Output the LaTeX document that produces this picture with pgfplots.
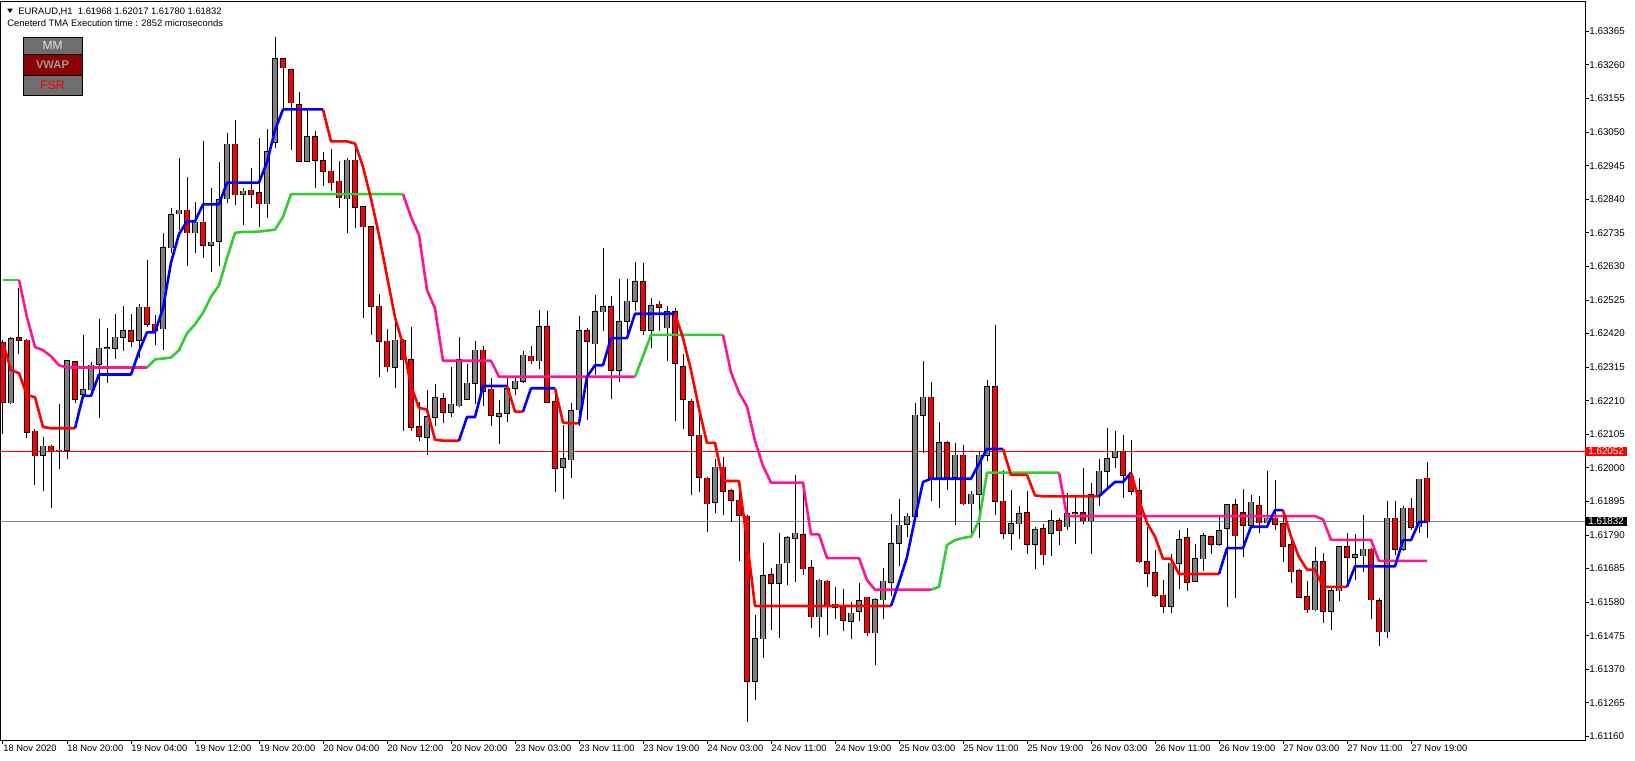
\documentclass[border=0pt]{standalone}
\usepackage{pgfplots}
\pgfplotsset{compat=1.18}
\usepackage{pgfplotstable}
\usepackage{fontspec}
\setmainfont{Liberation Sans}
\definecolor{candlegray}{HTML}{808080}
\definecolor{mtred}{HTML}{FF0000}
\definecolor{mtblue}{HTML}{0000FF}
\definecolor{mtgreen}{HTML}{32CD32}
\definecolor{mtpink}{HTML}{FF1493}
\definecolor{slate}{HTML}{778899}
\definecolor{btngray}{HTML}{6E6E6E}
\definecolor{btnred}{HTML}{8B0000}
\newcommand\tf{\fontsize{4.7}{5.5}\selectfont}
\newcommand\pf{\fontsize{4.9}{5.5}\selectfont}

\pgfplotstableread{
i O H L C
0 1.62392 1.62399 1.62106 1.62206
1 1.62204 1.62409 1.62199 1.62404
2 1.62406 1.62564 1.62356 1.62399
3 1.62399 1.62402 1.62092 1.62111
4 1.62114 1.62121 1.61945 1.62038
5 1.62039 1.62096 1.61928 1.62068
6 1.62068 1.62071 1.61874 1.62054
7 1.62054 1.62199 1.61995 1.62055
8 1.62056 1.62335 1.62028 1.62334
9 1.62331 1.62334 1.62202 1.62214
10 1.62231 1.62416 1.62228 1.62245
11 1.62245 1.62332 1.62242 1.62321
12 1.62325 1.62466 1.62156 1.62374
13 1.62374 1.62438 1.62266 1.62375
14 1.62374 1.62482 1.62342 1.62409
15 1.62409 1.62505 1.62366 1.62428
16 1.62428 1.62482 1.62378 1.62396
17 1.62399 1.62514 1.62345 1.62502
18 1.62502 1.62649 1.62442 1.62449
19 1.62449 1.62478 1.62385 1.62431
20 1.62435 1.62734 1.62368 1.62688
21 1.62688 1.62814 1.62671 1.62791
22 1.62795 1.62968 1.62745 1.62806
23 1.62806 1.62911 1.62631 1.62735
24 1.62735 1.62831 1.62671 1.62768
25 1.62768 1.63021 1.62656 1.62696
26 1.62696 1.62874 1.62614 1.62706
27 1.62709 1.62956 1.62631 1.62838
28 1.62842 1.63046 1.62828 1.63012
29 1.63012 1.63088 1.62821 1.62854
30 1.62855 1.62874 1.62759 1.62865
31 1.62868 1.62938 1.62814 1.62856
32 1.62861 1.63032 1.62752 1.62826
33 1.62826 1.63059 1.62782 1.62989
34 1.63018 1.63349 1.62999 1.63279
35 1.63279 1.63282 1.63118 1.63252
36 1.63245 1.63248 1.62995 1.63142
37 1.63135 1.63175 1.62956 1.62959
38 1.62959 1.63121 1.62956 1.63035
39 1.63035 1.63054 1.62874 1.62962
40 1.62961 1.62988 1.62882 1.62928
41 1.62928 1.62996 1.62866 1.62892
42 1.62896 1.62959 1.62814 1.62845
43 1.62842 1.62968 1.62734 1.62962
44 1.62962 1.63009 1.62749 1.62816
45 1.62816 1.62819 1.62468 1.62754
46 1.62754 1.62756 1.62416 1.62505
47 1.62505 1.62545 1.62285 1.62396
48 1.62396 1.62434 1.62299 1.62316
49 1.62314 1.62462 1.62249 1.62399
50 1.62399 1.62402 1.62116 1.62338
51 1.62338 1.62442 1.62116 1.62128
52 1.62128 1.62206 1.62085 1.62099
53 1.62096 1.62245 1.62039 1.62159
54 1.62159 1.62262 1.62131 1.62219
55 1.62216 1.62235 1.62139 1.62174
56 1.62174 1.62314 1.62159 1.62199
57 1.62195 1.62409 1.62191 1.62338
58 1.62214 1.62324 1.62211 1.62264
59 1.62264 1.62396 1.62199 1.62368
60 1.62368 1.62382 1.62192 1.62239
61 1.62246 1.62282 1.62131 1.62164
62 1.62162 1.62211 1.62074 1.62169
63 1.62171 1.62282 1.62142 1.62248
64 1.62249 1.62288 1.62228 1.62271
65 1.62271 1.62364 1.62264 1.62352
66 1.62349 1.62382 1.62325 1.62335
67 1.62335 1.62495 1.62309 1.62441
68 1.62441 1.62492 1.62202 1.62206
69 1.62206 1.62242 1.61924 1.61999
70 1.62002 1.62135 1.61902 1.62028
71 1.62025 1.62202 1.61968 1.62178
72 1.62182 1.62474 1.62132 1.62428
73 1.62428 1.62439 1.62149 1.62396
74 1.62388 1.62542 1.62292 1.62488
75 1.62488 1.62688 1.62428 1.62504
76 1.62504 1.62539 1.62214 1.62306
77 1.62306 1.62591 1.62268 1.62456
78 1.62459 1.62592 1.62414 1.62521
79 1.62521 1.62645 1.62492 1.62582
80 1.62582 1.62642 1.62416 1.62431
81 1.62431 1.62532 1.62374 1.62506
82 1.62511 1.62522 1.62428 1.62502
83 1.62438 1.62506 1.62335 1.62488
84 1.62489 1.62499 1.62146 1.62328
85 1.62316 1.62356 1.62121 1.62214
86 1.62206 1.62216 1.61914 1.62102
87 1.62102 1.62171 1.61924 1.61971
88 1.61968 1.61971 1.61799 1.61888
89 1.61892 1.62028 1.61859 1.62002
90 1.62002 1.62035 1.61852 1.61928
91 1.61928 1.61934 1.61831 1.61899
92 1.61899 1.61928 1.61709 1.61852
93 1.61849 1.61852 1.61206 1.61332
94 1.61332 1.61539 1.61274 1.61466
95 1.61466 1.61764 1.61406 1.61662
96 1.61665 1.61688 1.61492 1.61639
97 1.61639 1.61796 1.61468 1.61699
98 1.61704 1.61788 1.61634 1.61782
99 1.61781 1.61978 1.61642 1.61795
100 1.61791 1.61942 1.61664 1.61685
101 1.61688 1.61711 1.61499 1.61535
102 1.61535 1.61651 1.61471 1.61648
103 1.61645 1.61649 1.61478 1.61571
104 1.61574 1.61628 1.61528 1.61565
105 1.61565 1.61621 1.61489 1.61524
106 1.61521 1.61582 1.61464 1.61545
107 1.61552 1.61639 1.61522 1.61585
108 1.61595 1.61596 1.61474 1.61485
109 1.61485 1.61592 1.61385 1.61588
110 1.61588 1.61688 1.61528 1.61645
111 1.61642 1.61856 1.61599 1.61762
112 1.61764 1.61902 1.61692 1.61821
113 1.61824 1.61859 1.61785 1.61849
114 1.61849 1.62204 1.61845 1.62164
115 1.62164 1.62335 1.62045 1.62221
116 1.62221 1.62268 1.61896 1.61964
117 1.61964 1.62145 1.61875 1.62078
118 1.62078 1.62085 1.61931 1.61971
119 1.61971 1.62078 1.61821 1.62039
120 1.62039 1.62071 1.61885 1.61888
121 1.61888 1.61928 1.61781 1.61918
122 1.61918 1.62049 1.61782 1.62039
123 1.62039 1.62276 1.62021 1.62254
124 1.62254 1.62446 1.61852 1.61896
125 1.61896 1.61992 1.61778 1.61795
126 1.61795 1.61932 1.61742 1.61825
127 1.61825 1.61882 1.61778 1.61856
128 1.61859 1.61928 1.61732 1.61761
129 1.61761 1.61814 1.61685 1.61806
130 1.61809 1.61824 1.61696 1.61728
131 1.61796 1.61868 1.61725 1.61835
132 1.61835 1.61842 1.61759 1.61806
133 1.61816 1.61921 1.61806 1.61856
134 1.61859 1.61909 1.61762 1.61858
135 1.61859 1.61999 1.61824 1.61835
136 1.61835 1.61952 1.61731 1.61916
137 1.61916 1.62028 1.61882 1.61989
138 1.61989 1.62124 1.61931 1.62028
139 1.62034 1.62114 1.61999 1.62052
140 1.62052 1.62102 1.61906 1.61978
141 1.61974 1.62088 1.61916 1.61928
142 1.61928 1.61968 1.61704 1.61706
143 1.61706 1.61814 1.61628 1.61671
144 1.61671 1.61742 1.61596 1.61602
145 1.61602 1.61649 1.61545 1.61568
146 1.61568 1.61731 1.61545 1.61702
147 1.61702 1.61805 1.61621 1.61776
148 1.61781 1.61811 1.61616 1.61642
149 1.61646 1.61761 1.61642 1.61716
150 1.61716 1.61796 1.61678 1.61788
151 1.61785 1.61788 1.61731 1.61762
152 1.61762 1.61845 1.61756 1.61804
153 1.61811 1.61888 1.61564 1.61885
154 1.61885 1.61902 1.61592 1.61788
155 1.61859 1.61935 1.61721 1.61821
156 1.61821 1.61914 1.61816 1.61892
157 1.61882 1.61911 1.61796 1.61828
158 1.61828 1.61989 1.61811 1.61842
159 1.61842 1.61961 1.61806 1.61824
160 1.61825 1.61864 1.61706 1.61756
161 1.61759 1.61778 1.61639 1.61675
162 1.61678 1.61685 1.61592 1.61596
163 1.61596 1.61645 1.61545 1.61556
164 1.61556 1.61754 1.61552 1.61706
165 1.61706 1.61735 1.61516 1.61552
166 1.61552 1.61628 1.61492 1.61616
167 1.61616 1.61756 1.61585 1.61754
168 1.61754 1.61795 1.61628 1.61721
169 1.61721 1.61792 1.61649 1.61728
170 1.61725 1.61852 1.61674 1.61745
171 1.61745 1.61748 1.61528 1.61588
172 1.61585 1.61592 1.61442 1.61488
173 1.61488 1.61896 1.61468 1.61842
174 1.61842 1.61895 1.61728 1.61746
175 1.61746 1.61882 1.61739 1.61874
176 1.61874 1.61906 1.61806 1.61814
177 1.61816 1.61966 1.61796 1.61964
178 1.61968 1.62017 1.61780 1.61832
}\candles

\pgfplotstableread{
i a b
0 1.62392 1.62588
1 1.62306 1.62588
2 1.62296 1.62588
3 1.62228 1.62471
4 1.62221 1.62378
5 1.62128 1.62368
6 1.62124 1.62349
7 1.62124 1.62321
8 1.62124 1.62314
9 1.62124 1.62314
10 1.62225 1.62314
11 1.62225 1.62314
12 1.62292 1.62314
13 1.62292 1.62314
14 1.62292 1.62314
15 1.62292 1.62314
16 1.62292 1.62314
17 1.62364 1.62314
18 1.62424 1.62314
19 1.62424 1.62339
20 1.62499 1.62342
21 1.62642 1.62345
22 1.62731 1.62368
23 1.62771 1.62421
24 1.62771 1.62449
25 1.62824 1.62485
26 1.62824 1.62535
27 1.62824 1.62571
28 1.62892 1.62656
29 1.62892 1.62735
30 1.62892 1.62738
31 1.62892 1.62738
32 1.62892 1.62739
33 1.62956 1.62742
34 1.63056 1.62745
35 1.63121 1.62785
36 1.63121 1.62856
37 1.63121 1.62856
38 1.63121 1.62856
39 1.63121 1.62856
40 1.63121 1.62856
41 1.63021 1.62856
42 1.63021 1.62856
43 1.63021 1.62856
44 1.63014 1.62856
45 1.62942 1.62856
46 1.62842 1.62856
47 1.62728 1.62856
48 1.62599 1.62856
49 1.62471 1.62856
50 1.62385 1.62856
51 1.62256 1.62785
52 1.62188 1.62728
53 1.62182 1.62556
54 1.62088 1.62499
55 1.62085 1.62335
56 1.62085 1.62335
57 1.62085 1.62335
58 1.62159 1.62335
59 1.62159 1.62335
60 1.62256 1.62335
61 1.62256 1.62335
62 1.62256 1.62285
63 1.62256 1.62285
64 1.62176 1.62285
65 1.62176 1.62285
66 1.62249 1.62285
67 1.62249 1.62285
68 1.62249 1.62285
69 1.62249 1.62285
70 1.62142 1.62285
71 1.62139 1.62285
72 1.62139 1.62285
73 1.62285 1.62285
74 1.62321 1.62285
75 1.62321 1.62285
76 1.62406 1.62285
77 1.62406 1.62285
78 1.62406 1.62285
79 1.62482 1.62285
80 1.62482 1.62349
81 1.62482 1.62416
82 1.62482 1.62416
83 1.62482 1.62416
84 1.62482 1.62416
85 1.62406 1.62416
86 1.62306 1.62416
87 1.62185 1.62416
88 1.62078 1.62416
89 1.62078 1.62416
90 1.61959 1.62416
91 1.61959 1.62299
92 1.61959 1.62235
93 1.61771 1.62192
94 1.61568 1.62085
95 1.61568 1.62006
96 1.61568 1.61954
97 1.61568 1.61954
98 1.61568 1.61954
99 1.61568 1.61954
100 1.61568 1.61954
101 1.61568 1.61792
102 1.61568 1.61792
103 1.61568 1.61718
104 1.61568 1.61718
105 1.61568 1.61718
106 1.61568 1.61718
107 1.61568 1.61718
108 1.61568 1.61649
109 1.61568 1.61619
110 1.61568 1.61619
111 1.61568 1.61619
112 1.61642 1.61619
113 1.61721 1.61619
114 1.61842 1.61619
115 1.61956 1.61619
116 1.61966 1.61619
117 1.61966 1.61628
118 1.61966 1.61759
119 1.61966 1.61774
120 1.61966 1.61781
121 1.61966 1.61785
122 1.62014 1.61835
123 1.62059 1.61985
124 1.62059 1.61985
125 1.62059 1.61985
126 1.61978 1.61985
127 1.61978 1.61985
128 1.61978 1.61985
129 1.61914 1.61985
130 1.61911 1.61985
131 1.61911 1.61985
132 1.61911 1.61985
133 1.61911 1.61849
134 1.61911 1.61849
135 1.61911 1.61849
136 1.61911 1.61849
137 1.61911 1.61849
138 1.61934 1.61849
139 1.61956 1.61849
140 1.61956 1.61849
141 1.61985 1.61849
142 1.61899 1.61849
143 1.61828 1.61849
144 1.61785 1.61849
145 1.61716 1.61849
146 1.61716 1.61849
147 1.61668 1.61849
148 1.61668 1.61849
149 1.61668 1.61849
150 1.61668 1.61849
151 1.61668 1.61849
152 1.61668 1.61849
153 1.61749 1.61849
154 1.61749 1.61849
155 1.61749 1.61849
156 1.61816 1.61849
157 1.61816 1.61849
158 1.61816 1.61849
159 1.61868 1.61849
160 1.61868 1.61849
161 1.61785 1.61849
162 1.61721 1.61849
163 1.61682 1.61849
164 1.61682 1.61849
165 1.61628 1.61839
166 1.61628 1.61775
167 1.61628 1.61775
168 1.61628 1.61775
169 1.61692 1.61775
170 1.61692 1.61775
171 1.61692 1.61775
172 1.61692 1.61709
173 1.61692 1.61709
174 1.61692 1.61709
175 1.61774 1.61709
176 1.61774 1.61709
177 1.61831 1.61709
178 1.61831 1.61709
}\lines

\begin{document}
\begin{tikzpicture}
\useasboundingbox (0,0) rectangle (817.5pt,380.5pt);
\begin{axis}[
  at={(0.5pt,10.5pt)}, anchor=south west,
  scale only axis, width=792pt, height=369pt,
  xmin=-0.25, xmax=197.75, ymin=1.61149, ymax=1.63457,
  clip mode=individual,
  axis line style={black, line width=0.5pt},
  tick style={black, line width=0.5pt},
  tick align=outside, major tick length=2pt,
  xtick pos=lower, ytick pos=right, yticklabel pos=right,
  xtick={0,8,...,176},
  xticklabels={18 Nov 2020,18 Nov 20:00,19 Nov 04:00,19 Nov 12:00,19 Nov 20:00,20 Nov 04:00,20 Nov 12:00,20 Nov 20:00,23 Nov 03:00,23 Nov 11:00,23 Nov 19:00,24 Nov 03:00,24 Nov 11:00,24 Nov 19:00,25 Nov 03:00,25 Nov 11:00,25 Nov 19:00,26 Nov 03:00,26 Nov 11:00,26 Nov 19:00,27 Nov 03:00,27 Nov 11:00,27 Nov 19:00},
  xticklabel style={anchor=north west, inner sep=0pt, font=\tf, xshift=0pt, yshift=-0.5pt},
  ytick={1.6116,1.61265,1.6137,1.61475,1.6158,1.61685,1.6179,1.61895,1.62,1.62105,1.6221,1.62315,1.6242,1.62525,1.6263,1.62735,1.6284,1.62945,1.6305,1.63155,1.6326,1.63365},
  yticklabels={1.61160,1.61265,1.61370,1.61475,1.61580,1.61685,1.61790,1.61895,1.62000,1.62105,1.62210,1.62315,1.62420,1.62525,1.62630,1.62735,1.62840,1.62945,1.63050,1.63155,1.63260,1.63365},
  yticklabel style={anchor=west, inner sep=0pt, font=\pf},
  scaled ticks=false,
]
% price lines
\addplot[mtred, line width=0.5pt] coordinates {(-0.25,1.62052) (197.75,1.62052)};
\addplot[slate, line width=0.6pt] coordinates {(-0.25,1.61832) (197.75,1.61832)};

\pgfplotsset{cdl/.style={draw=none, mark=none}}
% wicks
\addplot[cdl, error bars/.cd, y dir=plus, y explicit, error mark=none,
  error bar style={draw=black, line width=0.5pt}]
  table[x=i, y=L, y error plus expr=\thisrow{H}-\thisrow{L}] {\candles};
% bull bodies
\addplot[cdl, restrict expr to domain={\thisrow{C}-\thisrow{O}}{0:1},
  error bars/.cd, y dir=plus, y explicit, error mark=none,
  error bar style={draw=black, line width=2.6pt, shorten <=-0.3pt, shorten >=-0.3pt}]
  table[x=i, y=O, y error plus expr=\thisrow{C}-\thisrow{O}] {\candles};
\addplot[cdl, restrict expr to domain={\thisrow{C}-\thisrow{O}}{0:1},
  error bars/.cd, y dir=plus, y explicit, error mark=none,
  error bar style={draw=candlegray, line width=1.6pt}]
  table[x=i, y=O, y error plus expr=\thisrow{C}-\thisrow{O}] {\candles};
% bear bodies
\addplot[cdl, restrict expr to domain={\thisrow{O}-\thisrow{C}}{0.000001:1},
  error bars/.cd, y dir=plus, y explicit, error mark=none,
  error bar style={draw=black, line width=2.6pt, shorten <=-0.3pt, shorten >=-0.3pt}]
  table[x=i, y=C, y error plus expr=\thisrow{O}-\thisrow{C}] {\candles};
\addplot[cdl, restrict expr to domain={\thisrow{O}-\thisrow{C}}{0.000001:1},
  error bars/.cd, y dir=plus, y explicit, error mark=none,
  error bar style={draw=mtred, line width=1.6pt}]
  table[x=i, y=C, y error plus expr=\thisrow{O}-\thisrow{C}] {\candles};

% slow line (green / pink)
\pgfplotsset{ind/.style={line width=1.3pt, line join=round, mark=none}}
\addplot[ind, mtgreen, restrict x to domain=0:2] table[x=i,y=b] {\lines};
\addplot[ind, mtpink, restrict x to domain=2:18] table[x=i,y=b] {\lines};
\addplot[ind, mtgreen, restrict x to domain=18:50] table[x=i,y=b] {\lines};
\addplot[ind, mtpink, restrict x to domain=50:79] table[x=i,y=b] {\lines};
\addplot[ind, mtgreen, restrict x to domain=79:90] table[x=i,y=b] {\lines};
\addplot[ind, mtpink, restrict x to domain=90:116] table[x=i,y=b] {\lines};
\addplot[ind, mtgreen, restrict x to domain=116:132] table[x=i,y=b] {\lines};
\addplot[ind, mtpink, restrict x to domain=132:178] table[x=i,y=b] {\lines};
% fast line (blue / red)
\addplot[ind, mtred, restrict x to domain=0:9] table[x=i,y=a] {\lines};
\addplot[ind, mtblue, restrict x to domain=9:40] table[x=i,y=a] {\lines};
\addplot[ind, mtred, restrict x to domain=40:57] table[x=i,y=a] {\lines};
\addplot[ind, mtblue, restrict x to domain=57:63] table[x=i,y=a] {\lines};
\addplot[ind, mtred, restrict x to domain=63:65] table[x=i,y=a] {\lines};
\addplot[ind, mtblue, restrict x to domain=65:69] table[x=i,y=a] {\lines};
\addplot[ind, mtred, restrict x to domain=69:72] table[x=i,y=a] {\lines};
\addplot[ind, mtblue, restrict x to domain=72:84] table[x=i,y=a] {\lines};
\addplot[ind, mtred, restrict x to domain=84:111] table[x=i,y=a] {\lines};
\addplot[ind, mtblue, restrict x to domain=111:125] table[x=i,y=a] {\lines};
\addplot[ind, mtred, restrict x to domain=125:137] table[x=i,y=a] {\lines};
\addplot[ind, mtblue, restrict x to domain=137:141] table[x=i,y=a] {\lines};
\addplot[ind, mtred, restrict x to domain=141:152] table[x=i,y=a] {\lines};
\addplot[ind, mtblue, restrict x to domain=152:160] table[x=i,y=a] {\lines};
\addplot[ind, mtred, restrict x to domain=160:168] table[x=i,y=a] {\lines};
\addplot[ind, mtblue, restrict x to domain=168:178] table[x=i,y=a] {\lines};

% current price labels
\node[fill=mtred, text=white, font=\pf, anchor=west, inner xsep=1.5pt, inner ysep=0.6pt] at (axis cs:197.75,1.62052) {1.62052};
\node[fill=black, text=white, font=\pf, anchor=west, inner xsep=1.5pt, inner ysep=0.6pt] at (axis cs:197.75,1.61832) {1.61832};
\end{axis}
% header
\fill (3.6pt,376.2pt) -- (6.4pt,376.2pt) -- (5pt,374pt) -- cycle;
\node[anchor=base west, inner sep=0pt, font=\tf] at (9pt,373pt) {EURAUD,H1\ \ 1.61968 1.62017 1.61780 1.61832};
\node[anchor=base west, inner sep=0pt, font=\tf] at (3.5pt,367pt) {Ceneterd TMA Execution time : 2852 microseconds};
% buttons
\draw[fill=btngray, draw=black, line width=0.4pt] (11.5pt,353.5pt) rectangle (41pt,362pt);
\node[font=\fontsize{6}{6}\selectfont, text=white!88!black] at (26.25pt,357.7pt) {MM};
\draw[fill=btnred, draw=black, line width=0.4pt] (11.5pt,343pt) rectangle (41pt,353.5pt);
\node[font=\bfseries\fontsize{5.6}{6}\selectfont, text=black!40] at (26.25pt,348.2pt) {VWAP};
\draw[fill=btngray, draw=black, line width=0.4pt] (11.5pt,333pt) rectangle (41pt,343pt);
\node[font=\fontsize{6.2}{6}\selectfont, text=mtred] at (26.25pt,338pt) {FSR};
\end{tikzpicture}
\end{document}
